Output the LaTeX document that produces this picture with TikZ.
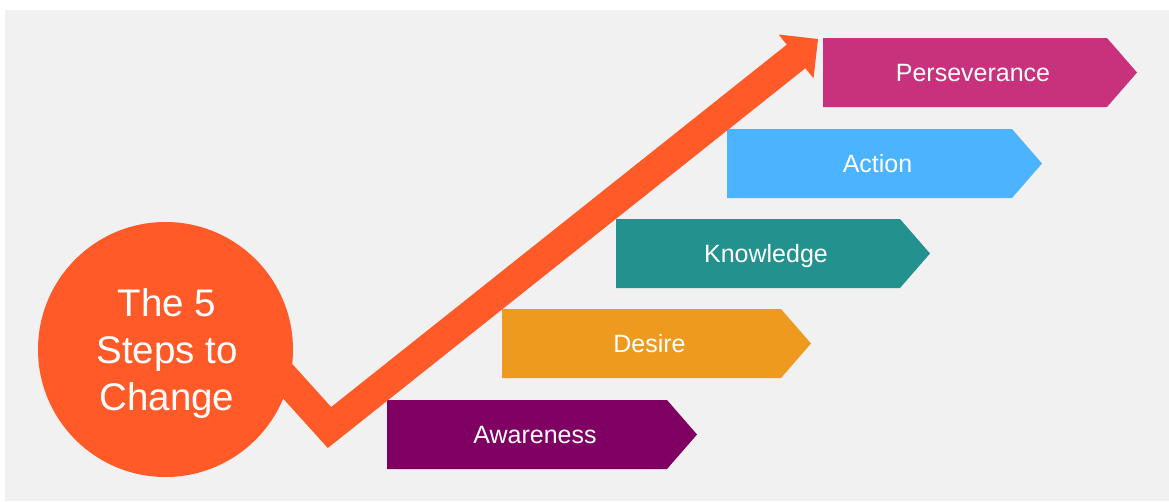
\documentclass[tikz,border=0pt]{standalone}
\usepackage{fontspec}
\setmainfont{Liberation Sans}
\usetikzlibrary{calc}

\definecolor{bggray}{HTML}{F1F1F1}
\definecolor{flame}{HTML}{FF5A28}
\definecolor{plum}{HTML}{7F0062}
\definecolor{amber}{HTML}{EE9A1E}
\definecolor{tealstep}{HTML}{23928E}
\definecolor{sky}{HTML}{4BB3FF}
\definecolor{berry}{HTML}{C8327C}

\begin{document}
\begin{tikzpicture}[x=1pt,y=-1pt,
  steplabel/.style={text=white, font=\fontsize{25}{30}\selectfont, anchor=base, inner sep=0pt},
  hubstyle/.style={circle, fill=flame, minimum size=255pt, inner sep=0pt},
  hubtext/.style={text=white, align=center, font=\fontsize{38.5}{47}\selectfont, inner sep=0pt},
  riser/.style={flame, line width=30pt, line join=miter}]

\useasboundingbox (0,0) rectangle (1169,501);
\fill[white] (0,0) rectangle (1169,501);
\fill[bggray] (5,10) rectangle (1169,501);

% step banners: name / left / top / length to tip / colour / label
\foreach \nm/\lx/\ty/\blen/\col/\txt in {
    aw/387/400/310/plum/Awareness,
    de/502/309/309/amber/Desire,
    kn/616/219/314/tealstep/Knowledge,
    ac/727/129/315/sky/Action,
    pe/823/38/314/berry/Perseverance}{
  \fill[\col] (\lx,\ty) -- ++(\blen-30,0) -- ++(30,34.5) -- ++(-30,34.5)
              -- ++(-\blen+30,0) -- cycle;
  \node[steplabel] (\nm) at (\lx+\blen/2-7, \ty+43.5) {\txt};
}

% central disc
\node[hubstyle] (hub) at (165.5,349.5) {};

% rising arrow: dip below the disc, then up to the top step
\coordinate (V) at (329.5,427.5);
\coordinate (T) at (818,39);
\coordinate (S) at ($(hub.-15)!-45pt!(V)$);
\coordinate (B) at ($(T)!25pt!(V)$);
\coordinate (H) at ($(T)!28pt!(V)$);
\draw[riser] (S) -- (V) -- (B);
\fill[flame] (T) -- ($(H)!28pt!90:(T)$) -- ($(H)!28pt!-90:(T)$) -- cycle;

\node[hubtext] (title) at (167,353.5) {The 5\\Steps to\\Change};

\end{tikzpicture}
\end{document}
